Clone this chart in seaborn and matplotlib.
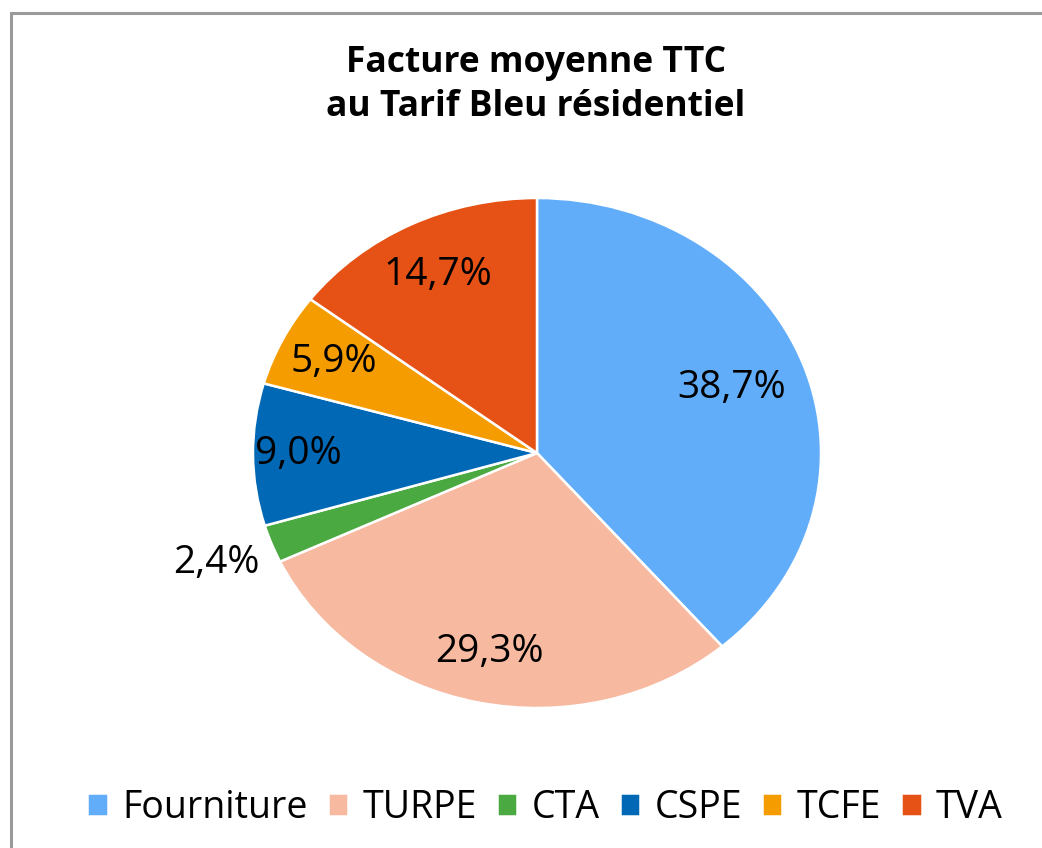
import numpy as np
import matplotlib
matplotlib.use("Agg")
import matplotlib.pyplot as plt
import matplotlib.patches as mpatches
import seaborn as sns

# Data
categories = ["Fourniture", "TURPE", "CTA", "CSPE", "TCFE", "TVA"]
shares = [38.7, 29.3, 2.4, 9.0, 5.9, 14.7]
colors = ["#62ADF9", "#F7B9A0", "#4BA941", "#0068B5", "#F59C00", "#E65115"]
label_radius = [0.73, 0.80, 1.21, 0.84, 0.80, 0.78]

sns.set_theme(style="white")
plt.rcParams["font.family"] = ["Open Sans", "DejaVu Sans"]
plt.rcParams["text.color"] = "black"

fig = plt.figure(figsize=(10.42, 8.48), dpi=100)

# outer grey frame (chart area border)
frame = mpatches.Rectangle((11 / 1042, -0.1), 1.2, 1 - 13 / 848 + 0.1,
                           transform=fig.transFigure, fill=False,
                           edgecolor="#9a9a9a", linewidth=2.2)
fig.patches.append(frame)

# axes covering the (elliptical) pie area
ax = fig.add_axes([253 / 1042, 140 / 848, 568 / 1042, 510 / 848])
wedges, texts, autotexts = ax.pie(
    shares, colors=colors, startangle=90, counterclock=False,
    autopct=lambda p: f"{p:.1f}%".replace(".", ","),
    wedgeprops=dict(edgecolor="white", linewidth=1.8),
    textprops=dict(fontsize=28, color="black"),
)
ax.set_aspect("auto")
ax.set_xlim(-1, 1)
ax.set_ylim(-1, 1)
ax.axis("off")

# place percentage labels per wedge
for w, t, r in zip(wedges, autotexts, label_radius):
    mid = np.deg2rad((w.theta1 + w.theta2) / 2)
    t.set_position((r * np.cos(mid), r * np.sin(mid)))
    t.set_ha("center")
    t.set_va("center")

fig.text(536 / 1042, 1 - 85 / 848, "Facture moyenne TTC\nau Tarif Bleu résidentiel",
         ha="center", va="center", fontsize=25.5, fontweight="bold",
         color="black", linespacing=1.28)

fig.legend(wedges, categories, loc="center", bbox_to_anchor=(545 / 1042, 1 - 808 / 848),
           ncol=6, frameon=False, fontsize=27, handlelength=0.55, handleheight=0.55,
           handletextpad=0.38, columnspacing=0.53, borderpad=0,
           labelcolor="black")

fig.savefig("out.png", dpi=100)
